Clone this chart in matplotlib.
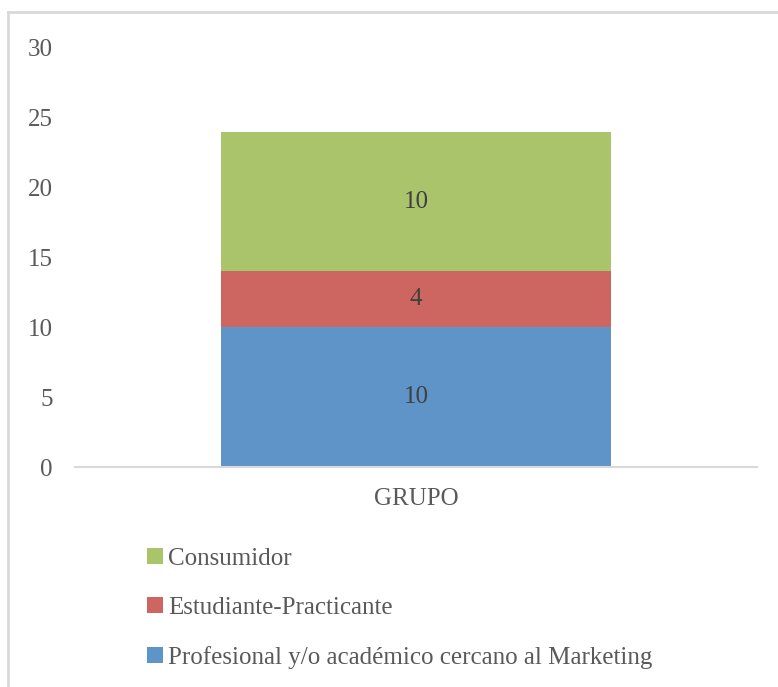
import matplotlib
matplotlib.use("Agg")
import matplotlib.pyplot as plt
from matplotlib.lines import Line2D
from matplotlib.patches import Patch

categories = ["GRUPO"]
series_names = ["Profesional y/o académico cercano al Marketing", "Estudiante-Practicante", "Consumidor"]
series_values = [[10], [4], [10]]
colors = ["#5E94C7", "#CD6660", "#AAC46C"]
yticks = [0, 5, 10, 15, 20, 25, 30]

FS = 18
plt.rcParams['font.family'] = ['Liberation Serif', 'DejaVu Serif']
fig = plt.figure(figsize=(7.78, 6.87), dpi=100)
ax = fig.add_axes([75/778, 1-467/687, (757-75)/778, (467-48)/687])

bottom = [0]*len(categories)
handles = []
for name, vals, c in zip(series_names, series_values, colors):
    bars = ax.bar(range(len(categories)), vals, width=0.572, bottom=bottom, color=c, label=name, zorder=2)
    for b, v, btm in zip(bars, vals, bottom):
        ax.text(b.get_x()+b.get_width()/2, btm+v/2, str(v), ha='center', va='center',
                fontsize=FS, color='#404040')
    bottom = [b+v for b, v in zip(bottom, vals)]
    handles.append(Patch(facecolor=c, label=name))

ax.set_xlim(-0.5, 0.5)
ax.set_ylim(0, 30)
ax.set_yticks(yticks)
ax.set_xticks(range(len(categories)))
ax.set_xticklabels(categories)
ax.tick_params(axis='both', length=0, labelsize=FS, labelcolor='#595959')
ax.tick_params(axis='y', pad=16)
ax.tick_params(axis='x', pad=15)
for s in ['left', 'right', 'top']:
    ax.spines[s].set_visible(False)
ax.spines['bottom'].set_color('#D9D9D9')
ax.spines['bottom'].set_linewidth(1.5)
ax.spines['bottom'].set_zorder(3)

leg = fig.legend(handles=handles[::-1], loc='upper left', bbox_to_anchor=(147/778, 1-548/687),
                 frameon=False, fontsize=FS, labelcolor='#595959', handlelength=0.62, handleheight=0.62,
                 handletextpad=0.22, labelspacing=1.08, borderaxespad=0, borderpad=0)

fig.add_artist(Line2D([8/778, 8/778], [0, 1-12/687], transform=fig.transFigure, color='#D9D9D9', lw=2))
fig.add_artist(Line2D([8/778, 1], [1-12/687, 1-12/687], transform=fig.transFigure, color='#D9D9D9', lw=2))

fig.savefig("out.png", dpi=100)
